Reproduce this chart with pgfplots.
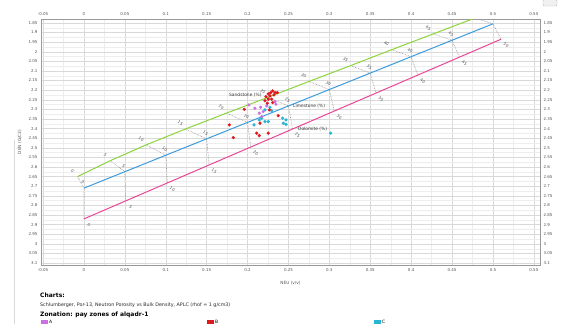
\documentclass[border=0pt]{standalone}
\usepackage{fontspec}
\setmainfont{DejaVu Sans}
\usepackage{pgfplots}
\usepackage{pgfplotstable}
\pgfplotsset{compat=1.18}
\definecolor{ssgreen}{RGB}{140,212,60}
\definecolor{lsblue}{RGB}{60,155,222}
\definecolor{dolpink}{RGB}{234,70,150}
\definecolor{zA}{RGB}{205,110,225}
\definecolor{zB}{RGB}{222,25,30}
\definecolor{zC}{RGB}{40,180,212}
\definecolor{tickgray}{RGB}{85,85,85}

\pgfplotstableread{
N rho lab
-0.008 2.65 0
0.032 2.5675 5
0.076 2.485 10
0.124 2.4025 15
0.174 2.32 20
0.225 2.2375 25
0.275 2.155 30
0.326 2.0725 35
0.376 1.99 40
0.427 1.9075 45
0.478 1.825 50
}\sand
\pgfplotstableread{
N rho lab
0 2.71 0
0.05 2.6245 5
0.10 2.539 10
0.15 2.4535 15
0.20 2.368 20
0.25 2.2825 25
0.30 2.197 30
0.35 2.1115 35
0.40 2.026 40
0.45 1.9405 45
0.50 1.855 50
}\lime
\pgfplotstableread{
N rho lab
0 2.87 0
0.051 2.7765 5
0.102 2.683 10
0.153 2.5895 15
0.204 2.496 20
0.255 2.4025 25
0.306 2.309 30
0.357 2.2155 35
0.408 2.122 40
0.459 2.0285 45
0.51 1.935 50
}\dolo
\pgfplotstableread{
N rho
0.2253 2.2198
0.2283 2.213
0.2307 2.204
0.2335 2.213
0.2363 2.213
0.2225 2.234
0.2274 2.230
0.2323 2.225
0.2213 2.255
0.2253 2.247
0.2295 2.247
0.2241 2.268
0.2307 2.265
0.196 2.300
0.1777 2.381
0.1826 2.447
0.2112 2.424
0.2143 2.437
0.2253 2.424
0.2152 2.372
0.2375 2.333
0.2266 2.303
}\zoneB
\pgfplotstableread{
N rho
0.209 2.294
0.216 2.289
0.219 2.312
0.2143 2.320
0.2335 2.260
0.2347 2.273
0.2234 2.282
0.2173 2.338
0.2017 2.277
}\zoneA
\pgfplotstableread{
N rho
0.2079 2.381
0.2143 2.355
0.2173 2.346
0.2213 2.364
0.2253 2.364
0.2213 2.303
0.2274 2.289
0.2295 2.307
0.2429 2.346
0.247 2.355
0.2437 2.372
0.247 2.378
0.3016 2.424
}\zoneC

\pgfplotsset{
  mybase/.style={
    scale only axis, width=499pt, height=246pt,
    at={(41pt,-265pt)}, anchor=south west,
    xmin=-0.0525, xmax=0.5575, ymin=1.83, ymax=3.11, y dir=reverse,
    xtick={-0.05,0,0.05,0.1,0.15,0.2,0.25,0.3,0.35,0.4,0.45,0.5,0.55},
    ytick={1.85,1.9,1.95,2,2.05,2.1,2.15,2.2,2.25,2.3,2.35,2.4,2.45,2.5,2.55,2.6,2.65,2.7,2.75,2.8,2.85,2.9,2.95,3,3.05,3.1},
    /pgf/number format/assume math mode=true,
    /pgf/number format/fixed, /pgf/number format/precision=2,
    tick label style={font=\fontsize{4}{4}\selectfont, text=tickgray},
    major tick length=0pt, minor tick length=0pt,
  },
  conn/.style={black!45, densely dotted, line width=0.6pt, forget plot},
  isolab/.style={draw=none, nodes near coords, point meta=explicit symbolic,
    nodes near coords style={anchor=center, #1, rotate=-35,
      font=\fontsize{4}{4}\selectfont, text=tickgray, inner sep=0pt}},
}

\begin{document}
\begin{tikzpicture}
\path[use as bounding box] (0,0) rectangle (569pt,-324pt);
\draw[gray!30, line width=0.6pt] (14pt,-140pt) -- (14pt,-324pt);
\begin{axis}[mybase,
  axis line style={draw=gray!80, line width=0.8pt},
  grid=both, minor x tick num=1, minor y tick num=1,
  major grid style={gray!30, line width=0.35pt},
  minor grid style={gray!14, line width=0.3pt},
  xlabel={NEU (v/v)}, ylabel={DEN (G/C3)},
  label style={font=\fontsize{4.3}{4.3}\selectfont, text=tickgray},
  xlabel style={yshift=-3pt},
  clip=true,
]
% iso-porosity connectors (sandstone -> limestone -> dolomite)
\addplot[conn] coordinates {(-0.008,2.65) (0,2.71) (0,2.87)};
\addplot[conn] coordinates {(0.032,2.5675) (0.05,2.6245) (0.051,2.7765)};
\addplot[conn] coordinates {(0.076,2.485) (0.10,2.539) (0.102,2.683)};
\addplot[conn] coordinates {(0.124,2.4025) (0.15,2.4535) (0.153,2.5895)};
\addplot[conn] coordinates {(0.174,2.32) (0.20,2.368) (0.204,2.496)};
\addplot[conn] coordinates {(0.225,2.2375) (0.25,2.2825) (0.255,2.4025)};
\addplot[conn] coordinates {(0.275,2.155) (0.30,2.197) (0.306,2.309)};
\addplot[conn] coordinates {(0.326,2.0725) (0.35,2.1115) (0.357,2.2155)};
\addplot[conn] coordinates {(0.376,1.99) (0.40,2.026) (0.408,2.122)};
\addplot[conn] coordinates {(0.427,1.9075) (0.45,1.9405) (0.459,2.0285)};
\addplot[conn] coordinates {(0.478,1.825) (0.50,1.855) (0.51,1.935)};
\addplot[ssgreen, line width=1pt] table[x=N,y=rho] {\sand};
\addplot[lsblue, line width=1pt] table[x=N,y=rho] {\lime};
\addplot[dolpink, line width=1pt] table[x=N,y=rho] {\dolo};
% iso-porosity labels
\addplot[isolab={xshift=-5pt, yshift=6pt}] table[x=N,y=rho,meta=lab] {
N rho lab
-0.008 2.65 0
0.032 2.5675 5
0.076 2.485 10
0.124 2.4025 15
0.174 2.32 20
0.225 2.2375 25
0.275 2.155 30
0.326 2.0725 35
0.376 1.99 40
0.427 1.9075 45
};
\addplot[isolab={xshift=-1pt, yshift=6pt}] table[x=N,y=rho,meta=lab] {
N rho lab
0 2.71 0
0.05 2.6245 5
0.10 2.539 10
0.15 2.4535 15
0.20 2.368 20
0.25 2.2825 25
0.30 2.197 30
0.35 2.1115 35
0.40 2.026 40
0.45 1.9405 45
};
\addplot[isolab={xshift=5pt, yshift=-6pt}] table[x=N,y=rho,meta=lab] {\dolo};
% zones
\addplot[only marks, mark=*, mark size=1.4pt, draw=zC, fill=zC] table[x=N,y=rho] {\zoneC};
\addplot[only marks, mark=*, mark size=1.4pt, draw=zA, fill=zA] table[x=N,y=rho] {\zoneA};
\addplot[only marks, mark=*, mark size=1.4pt, draw=zB, fill=zB] table[x=N,y=rho] {\zoneB};
% curve names
\node[anchor=west, font=\fontsize{4.4}{4.4}\selectfont, text=black!80, inner sep=0pt] at (axis cs:0.1773,2.225) {Sandstone (\%)};
\node[anchor=west, font=\fontsize{4.4}{4.4}\selectfont, text=black!80, inner sep=0pt] at (axis cs:0.2555,2.282) {Limestone (\%)};
\node[anchor=west, font=\fontsize{4.4}{4.4}\selectfont, text=black!80, inner sep=0pt] at (axis cs:0.2616,2.402) {Dolomite (\%)};
\end{axis}
\begin{axis}[mybase, axis line style={draw=none},
  xticklabel pos=right, yticklabel pos=right]
\end{axis}
\draw[gray!50, fill=gray!12, rounded corners=1pt] (543pt,0.5pt) rectangle (557pt,-6pt);
\node[anchor=west, inner sep=0pt, font=\bfseries\fontsize{6}{6}\selectfont] at (40pt,-295.5pt) {Charts:};
\node[anchor=west, inner sep=0pt, font=\fontsize{4.8}{5}\selectfont, text=black!85] at (40pt,-305pt) {Schlumberger, Por-13, Neutron Porosity vs Bulk Density, APLC (rhof = 1 g/cm3)};
\node[anchor=west, inner sep=0pt, font=\bfseries\fontsize{6}{6}\selectfont] at (40pt,-314.5pt) {Zonation: pay zones of alqadr-1};
\fill[zA] (41pt,-319.5pt) rectangle (47.5pt,-324pt);
\node[anchor=west, inner sep=0pt, font=\fontsize{4.5}{4.5}\selectfont] at (49pt,-321.8pt) {A};
\fill[zB] (207pt,-319.5pt) rectangle (213.5pt,-324pt);
\node[anchor=west, inner sep=0pt, font=\fontsize{4.5}{4.5}\selectfont] at (215pt,-321.8pt) {B};
\fill[zC] (374pt,-319.5pt) rectangle (380.5pt,-324pt);
\node[anchor=west, inner sep=0pt, font=\fontsize{4.5}{4.5}\selectfont] at (382pt,-321.8pt) {C};
\end{tikzpicture}
\end{document}
